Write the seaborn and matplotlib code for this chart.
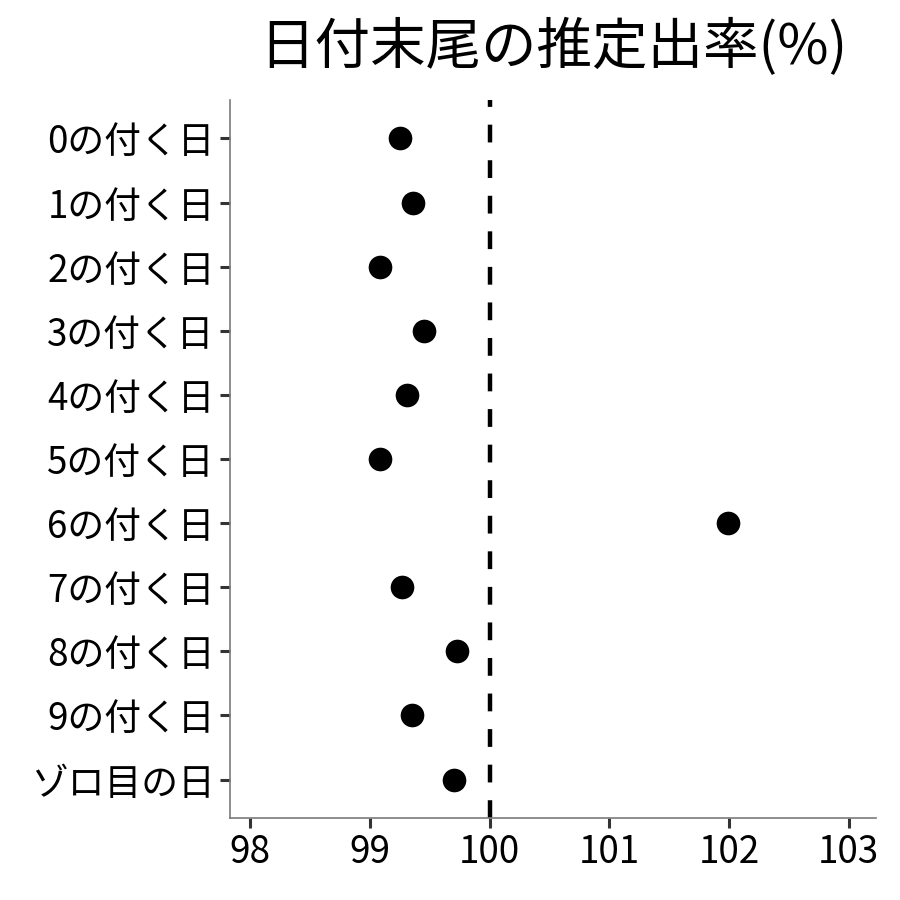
import pandas as pd
import matplotlib
matplotlib.use("Agg")
import matplotlib.pyplot as plt
import seaborn as sns

# values
labels = ["0の付く日", "1の付く日", "2の付く日", "3の付く日", "4の付く日",
          "5の付く日", "6の付く日", "7の付く日", "8の付く日", "9の付く日",
          "ゾロ目の日"]
rates = [99.25, 99.36, 99.08, 99.45, 99.31, 99.08, 101.99, 99.27, 99.73, 99.35, 99.70]
x_ticks = [98, 99, 100, 101, 102, 103]
title = "日付末尾の推定出率(%)"

df = pd.DataFrame({"label": labels, "rate": rates})

sns.set_theme(style="ticks")
plt.rcParams["font.family"] = ["Noto Sans CJK JP", "DejaVu Sans"]

fig = plt.figure(figsize=(9, 9), dpi=100)
ax = fig.add_axes([0.2556, 0.0911, 0.7178, 0.7978])

ax.axvline(100, color="black", linewidth=3.2, linestyle=(0, (4, 4)), zorder=1)
sns.scatterplot(data=df, x="rate", y="label", color="black", s=290,
                linewidth=0, ax=ax, zorder=3)

ax.set_xlim(97.83, 103.23)
ax.set_ylim(len(labels) - 0.4, -0.6)
ax.set_xticks(x_ticks)
ax.set_xticklabels([str(t) for t in x_ticks])
ax.set_xlabel("")
ax.set_ylabel("")

for side in ["top", "right"]:
    ax.spines[side].set_visible(False)
for side in ["left", "bottom"]:
    ax.spines[side].set_color("#7a7a7a")
    ax.spines[side].set_linewidth(1.2)

ax.tick_params(axis="both", labelsize=26.5, colors="#333333", width=2.2,
               length=7, pad=4, labelcolor="black")

ax.set_title(title, fontsize=40, pad=26, color="black")

fig.savefig("out.png", dpi=100)
